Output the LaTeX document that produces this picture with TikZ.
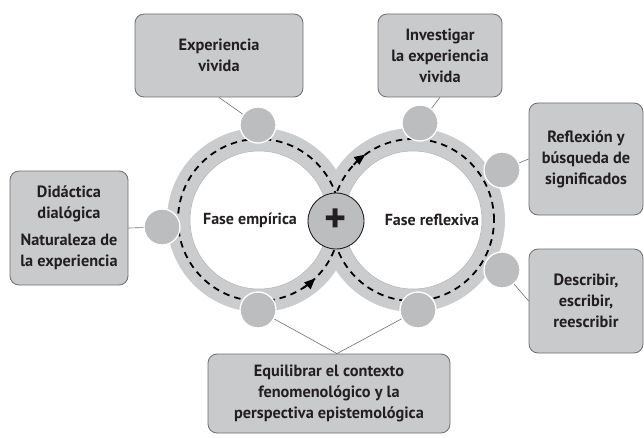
\documentclass[tikz,border=0pt]{standalone}
\usepackage{fontspec}
\setsansfont{PT Sans}
\usepackage{tikz}
\usetikzlibrary{positioning}
\usetikzlibrary{arrows.meta}
\definecolor{boxgray}{HTML}{C9CACC}
\definecolor{bordergray}{HTML}{6D6E71}
\definecolor{bandgray}{HTML}{CBCCCE}
\definecolor{dotgray}{HTML}{BCBDBF}
\definecolor{ink}{HTML}{231F20}
\begin{document}
\begin{tikzpicture}
  [
    x=1pt, y=1pt,
    box/.style={draw=bordergray, fill=boxgray, rounded corners=9pt,
      line width=0.8pt, align=center, text=ink, inner sep=0pt,
      font=\sffamily\bfseries\fontsize{16.3}{21}\selectfont},
    dot/.style={circle, draw=white, fill=dotgray, line width=1.3pt,
      minimum size=36pt, inner sep=0pt},
    ring/.style={text=ink, font=\sffamily\bfseries\fontsize{16}{18}\selectfont},
    dashring/.style={draw=black, line width=1.8pt, dash pattern=on 6.5pt off 5pt},
    ln/.style={draw=bordergray, line width=0.6pt}
  ]
  \useasboundingbox (0,0) rectangle (644,437);

  \coordinate (L) at (259,217);
  \coordinate (R) at (413,217);

  % rings
  \fill [bandgray] (L) circle [radius=92pt];
  \fill [bandgray] (R) circle [radius=92pt];
  \draw [fill=white, draw=gray!60, line width=0.5pt] (L) circle [radius=69pt];
  \draw [fill=white, draw=gray!60, line width=0.5pt] (R) circle [radius=69pt];
  \draw [dashring] (L) circle [radius=81pt];
  \draw [dashring] (R) circle [radius=81pt];
  \draw [line width=1.8pt, -{Triangle[length=11pt,width=9pt]}]
    ([shift={(-57:81pt)}]L) arc [start angle=-57, end angle=-46, radius=81pt];
  \draw [line width=1.8pt, -{Triangle[length=11pt,width=9pt]}]
    ([shift={(137:81pt)}]R) arc [start angle=137, end angle=126, radius=81pt];

  \node (fE) at (250,217) [ring] {Fase empírica};
  \node (fR) at (432,217) [ring] {Fase reflexiva};
  \node (plus) at (336,216) [circle, draw=ink, fill=dotgray, line width=0.9pt,
    minimum size=56pt, inner sep=0pt, text=ink,
    font=\sffamily\bfseries\fontsize{42}{42}\selectfont] {+};

  % boxes
  \node (eV) at (219,381.5) [box, minimum width=168pt, minimum height=83pt]
    {Experiencia\\vivida};
  \node (iV) at (440,381.5) [box, minimum width=124pt, minimum height=83pt]
    {Investigar\\la experiencia\\vivida};
  \node (dD) at (69,209) [box, minimum width=118pt, minimum height=114pt]
    {Didáctica\\dialógica\\[6pt]Naturaleza de\\la experiencia};
  \node (rB) at (586,278) [box, minimum width=114pt, minimum height=112pt]
    {Reflexión y\\búsqueda de\\significados};
  \node (dE) at (586,136) [box, minimum width=114pt, minimum height=104pt]
    {Describir,\\escribir,\\reescribir};
  \node (eQ) at (329,43.5) [box, minimum width=242pt, minimum height=79pt]
    {Equilibrar el contexto\\fenomenológico y la\\perspectiva epistemológica};

  % dots on the rings
  \node (d1) at (258,312) [dot] {};
  \node (d2) at (162,210) [dot] {};
  \node (d3) at (258,127) [dot] {};
  \node (d4) at (420,314) [dot] {};
  \node (d5) at (502,267) [dot] {};
  \node (d6) at (502,167) [dot] {};
  \node (d7) at (418,127) [dot] {};

  \draw [ln] (eV.south) -- (d1);
  \draw [ln] (iV.south) -- (d4);
  \draw [ln] (dD.east) -- (d2);
  \draw [ln] (rB.west) -- (d5);
  \draw [ln] (dE.west) -- (d6);
  \draw [ln] (d3) -- ([xshift=8pt]eQ.north);
  \draw [ln] (d7) -- ([xshift=8pt]eQ.north);
\end{tikzpicture}
\end{document}
